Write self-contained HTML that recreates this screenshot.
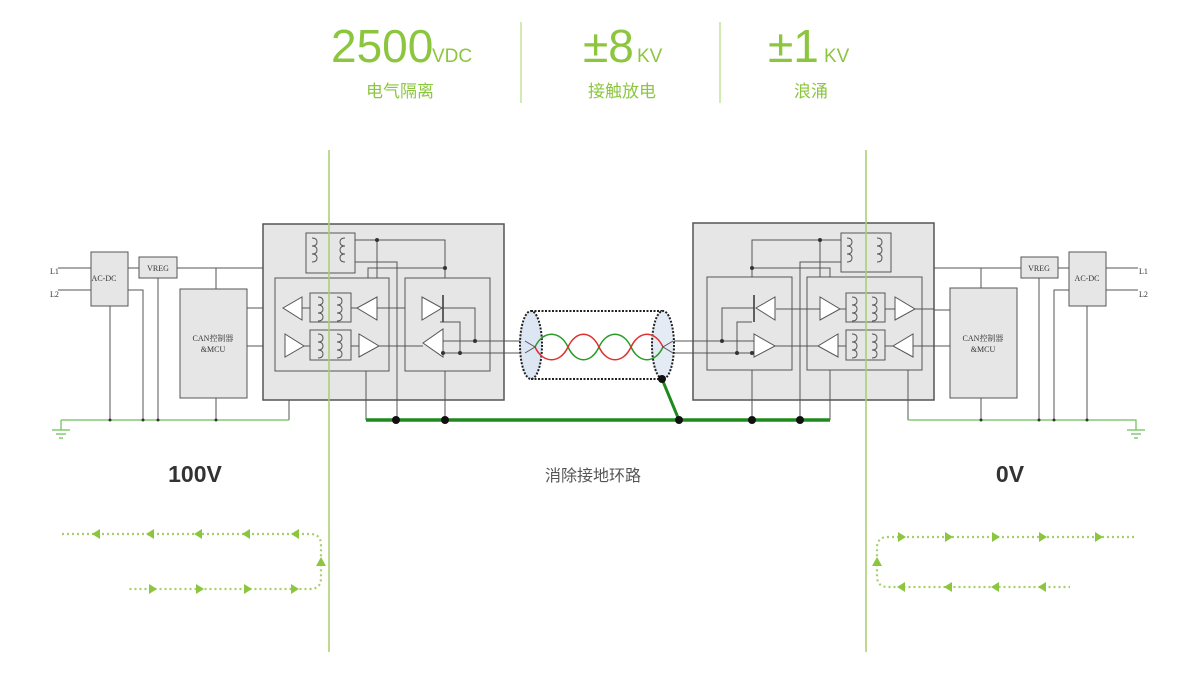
<!DOCTYPE html>
<html><head><meta charset="utf-8"><style>
html,body{margin:0;padding:0;background:#fff;width:1181px;height:681px;overflow:hidden}
svg{display:block}
</style></head><body>
<svg width="1181" height="681" viewBox="0 0 1181 681" xmlns="http://www.w3.org/2000/svg" font-family="'Liberation Sans','Noto Sans CJK SC',sans-serif">
<defs>
<g id="coil"><path d="M0,0 q5,0 5,4 q0,4 -5,4 q5,0 5,4 q0,4 -5,4 q5,0 5,4 q0,4 -5,4" fill="none" stroke="#555" stroke-width="1"/></g>
</defs>
<!-- header -->
<g fill="#8cc63f">
<text x="331" y="62" font-size="46">2500</text><text x="432" y="62" font-size="19">VDC</text>
<text x="400" y="97" font-size="17" text-anchor="middle" font-family="'Noto Sans CJK SC',sans-serif">电气隔离</text>
<text x="583" y="62" font-size="46">±8</text><text x="637" y="62" font-size="19">KV</text>
<text x="622" y="97" font-size="17" text-anchor="middle" font-family="'Noto Sans CJK SC',sans-serif">接触放电</text>
<text x="768" y="62" font-size="46">±1</text><text x="824" y="62" font-size="19">KV</text>
<text x="811" y="97" font-size="17" text-anchor="middle" font-family="'Noto Sans CJK SC',sans-serif">浪涌</text>
</g>
<line x1="521" y1="22" x2="521" y2="103" stroke="#c5e29a" stroke-width="1.5"/>
<line x1="720" y1="22" x2="720" y2="103" stroke="#c5e29a" stroke-width="1.5"/>

<g stroke="#555" stroke-width="1" fill="none">
<!-- LEFT -->
<line x1="58" y1="268" x2="91" y2="268"/><line x1="58" y1="290" x2="91" y2="290"/>
<line x1="128" y1="268" x2="139" y2="268"/>
<path d="M128,290 H143 V420"/>
<line x1="110" y1="306" x2="110" y2="420"/>
<line x1="158" y1="278" x2="158" y2="420"/>
<line x1="177" y1="268" x2="263" y2="268"/>
<line x1="216" y1="268" x2="216" y2="289"/>
<line x1="216" y1="398" x2="216" y2="420"/>
<line x1="247" y1="308" x2="283" y2="308"/>
<line x1="247" y1="346" x2="285" y2="346"/>
<path d="M289,371 V420"/>
</g>
<rect x="91" y="252" width="37" height="54" fill="#e6e6e6" stroke="#555"/>
<rect x="139" y="257" width="38" height="21" fill="#e6e6e6" stroke="#555"/>
<rect x="180" y="289" width="67" height="109" fill="#e6e6e6" stroke="#555"/>
<rect x="263" y="224" width="241" height="176" fill="#e6e6e6" stroke="#555" stroke-width="1.5"/>
<rect x="306" y="233" width="49" height="40" fill="#e6e6e6" stroke="#555"/>
<rect x="275" y="278" width="114" height="93" fill="#e6e6e6" stroke="#555"/>
<rect x="405" y="278" width="85" height="93" fill="#e6e6e6" stroke="#555"/>
<rect x="310" y="293" width="41" height="29" fill="#e6e6e6" stroke="#555"/>
<rect x="310" y="330" width="41" height="30" fill="#e6e6e6" stroke="#555"/>
<g stroke="#555" stroke-width="1" fill="none">
<path d="M355,240 H445 V278"/><path d="M377,240 V278"/>
<path d="M355,262 H397 V420"/><path d="M368,278 V268 H445"/>
<path d="M377,308 H405"/><path d="M379,346 H423"/>
<path d="M436,308 H475 V341"/><path d="M440,322 H460 V353"/>
<path d="M443,341 H525"/><path d="M443,353 H525"/>
<path d="M302,308 H310"/><path d="M351,308 H357"/><path d="M304,346 H310"/><path d="M351,346 H359"/>
<path d="M329,371 V420"/><path d="M445,371 V420"/><path d="M366,371 V420"/>
</g>
<g fill="#fff" stroke="#555">
<polygon points="302,297 302,320 283,308"/><polygon points="377,297 377,320 357,308"/>
<polygon points="285,334 285,357 304,346"/><polygon points="359,334 359,357 379,346"/>
<polygon points="422,297 422,320 442,308"/><polygon points="443,329 443,357 423,343"/>
</g>
<line x1="443" y1="295" x2="443" y2="322" stroke="#333" stroke-width="1.5"/>
<g fill="#333"><circle cx="377" cy="240" r="2"/><circle cx="445" cy="268" r="2"/><circle cx="475" cy="341" r="2"/><circle cx="460" cy="353" r="2"/><circle cx="443" cy="353" r="2"/></g>
<use href="#coil" x="312" y="238"/><use href="#coil" x="345" y="238" transform="translate(690,0) scale(-1,1)"/>
<use href="#coil" x="318" y="297"/><use href="#coil" x="337" y="297"/>
<use href="#coil" x="318" y="334"/><use href="#coil" x="337" y="334"/>
<text x="104" y="281" font-size="8" font-family="'Liberation Serif',serif" fill="#333" text-anchor="middle">AC-DC</text>
<text x="158" y="271" font-size="8" font-family="'Liberation Serif',serif" fill="#333" text-anchor="middle">VREG</text>
<text x="213" y="341" font-size="8" font-family="'Liberation Serif','Noto Serif CJK SC',serif" fill="#333" text-anchor="middle">CAN控制器</text>
<text x="213" y="352" font-size="8" font-family="'Liberation Serif',serif" fill="#333" text-anchor="middle">&amp;MCU</text>
<text x="50" y="274" font-size="8" font-family="'Liberation Serif',serif" fill="#333">L1</text>
<text x="50" y="297" font-size="8" font-family="'Liberation Serif',serif" fill="#333">L2</text>
<!-- ground -->
<path d="M61,420 H289" stroke="#6cbf5a" stroke-width="1.2" fill="none"/>
<path d="M61,420 V430 M52,430 H70 M56,434 H66 M59,438 H63" stroke="#6cbf5a" stroke-width="1.2" fill="none"/>
<g fill="#333"><circle cx="110" cy="420" r="1.5"/><circle cx="143" cy="420" r="1.5"/><circle cx="158" cy="420" r="1.5"/><circle cx="216" cy="420" r="1.5"/></g>

<!-- RIGHT -->
<g stroke="#555" stroke-width="1" fill="none">
<line x1="1106" y1="268" x2="1138" y2="268"/><line x1="1106" y1="290" x2="1138" y2="290"/>
<line x1="1058" y1="268" x2="1069" y2="268"/>
<path d="M1069,290 H1054 V420"/>
<line x1="1087" y1="306" x2="1087" y2="420"/>
<line x1="1039" y1="278" x2="1039" y2="420"/>
<line x1="934" y1="268" x2="1021" y2="268"/>
<line x1="981" y1="268" x2="981" y2="288"/>
<line x1="981" y1="398" x2="981" y2="420"/>
<line x1="922" y1="310" x2="950" y2="310"/>
<line x1="922" y1="346" x2="950" y2="346"/>
</g>
<rect x="1069" y="252" width="37" height="54" fill="#e6e6e6" stroke="#555"/>
<rect x="1021" y="257" width="37" height="21" fill="#e6e6e6" stroke="#555"/>
<rect x="950" y="288" width="67" height="110" fill="#e6e6e6" stroke="#555"/>
<rect x="693" y="223" width="241" height="177" fill="#e6e6e6" stroke="#555" stroke-width="1.5"/>
<rect x="841" y="233" width="50" height="39" fill="#e6e6e6" stroke="#555"/>
<rect x="707" y="277" width="85" height="93" fill="#e6e6e6" stroke="#555"/>
<rect x="807" y="277" width="115" height="93" fill="#e6e6e6" stroke="#555"/>
<rect x="846" y="293" width="39" height="29" fill="#e6e6e6" stroke="#555"/>
<rect x="846" y="330" width="39" height="30" fill="#e6e6e6" stroke="#555"/>
<g stroke="#555" stroke-width="1" fill="none">
<path d="M841,240 H752 V277"/><path d="M820,240 V277"/>
<path d="M841,262 H800 V420"/><path d="M830,277 V268 H752"/>
<path d="M776,309 H820"/><path d="M775,346 H818"/>
<path d="M754,308 H722 V341"/><path d="M752,322 H737 V353"/>
<path d="M674,341 H754"/><path d="M674,353 H754"/>
<path d="M840,309 H846"/><path d="M885,309 H895"/><path d="M838,346 H846"/><path d="M885,346 H893"/>
<path d="M915,309 H934"/><path d="M913,346 H934"/>
<path d="M752,370 V420"/><path d="M830,370 V420"/><path d="M908,370 V420"/>
</g>
<g fill="#fff" stroke="#555">
<polygon points="775,297 775,320 756,308"/><polygon points="754,334 754,357 775,346"/>
<polygon points="820,297 820,320 840,309"/><polygon points="895,297 895,320 915,309"/>
<polygon points="838,334 838,357 818,346"/><polygon points="913,334 913,357 893,346"/>
</g>
<line x1="754" y1="295" x2="754" y2="322" stroke="#333" stroke-width="1.5"/>
<g fill="#333"><circle cx="820" cy="240" r="2"/><circle cx="752" cy="268" r="2"/><circle cx="722" cy="341" r="2"/><circle cx="737" cy="353" r="2"/><circle cx="752" cy="353" r="2"/></g>
<use href="#coil" x="847" y="238"/><use href="#coil" x="877" y="238"/>
<use href="#coil" x="852" y="297"/><use href="#coil" x="872" y="297"/>
<use href="#coil" x="852" y="334"/><use href="#coil" x="872" y="334"/>
<text x="1087" y="281" font-size="8" font-family="'Liberation Serif',serif" fill="#333" text-anchor="middle">AC-DC</text>
<text x="1039" y="271" font-size="8" font-family="'Liberation Serif',serif" fill="#333" text-anchor="middle">VREG</text>
<text x="983" y="341" font-size="8" font-family="'Liberation Serif','Noto Serif CJK SC',serif" fill="#333" text-anchor="middle">CAN控制器</text>
<text x="983" y="352" font-size="8" font-family="'Liberation Serif',serif" fill="#333" text-anchor="middle">&amp;MCU</text>
<text x="1139" y="274" font-size="8" font-family="'Liberation Serif',serif" fill="#333">L1</text>
<text x="1139" y="297" font-size="8" font-family="'Liberation Serif',serif" fill="#333">L2</text>
<path d="M908,420 H1136 V430 M1127,430 H1145 M1131,434 H1141 M1134,438 H1138" stroke="#6cbf5a" stroke-width="1.2" fill="none"/>
<g fill="#333"><circle cx="981" cy="420" r="1.5"/><circle cx="1039" cy="420" r="1.5"/><circle cx="1054" cy="420" r="1.5"/><circle cx="1087" cy="420" r="1.5"/></g>

<!-- cable -->
<ellipse cx="531" cy="345" rx="11" ry="34" fill="#dde6f3" stroke="#222" stroke-width="2" stroke-dasharray="2,1.5"/>
<line x1="531" y1="311" x2="663" y2="311" stroke="#222" stroke-width="2" stroke-dasharray="2,1.5"/>
<line x1="531" y1="379" x2="663" y2="379" stroke="#222" stroke-width="2" stroke-dasharray="2,1.5"/>
<ellipse cx="663" cy="345" rx="11" ry="34" fill="#dde6f3" fill-opacity="0.8" stroke="#222" stroke-width="2" stroke-dasharray="2,1.5"/>
<g fill="none" stroke-width="1.5">
<path d="M535,347 C543,330 560,330 568,347 C576,364 591,364 599,347 C607,330 623,330 631,347 C639,364 655,364 663,347" stroke="#2a9a2a"/>
<path d="M535,347 C543,364 560,364 568,347 C576,330 591,330 599,347 C607,364 623,364 631,347 C639,330 655,330 663,347" stroke="#e03030"/>
</g>
<path d="M525,341 L535,347 L525,353 M673,341 L663,347 L673,353" stroke="#555" fill="none"/>
<!-- green bus -->
<path d="M366,420 H830" stroke="#1e8a1e" stroke-width="3.5" fill="none"/>
<path d="M662,379 L679,420" stroke="#1e8a1e" stroke-width="3" fill="none"/>
<g fill="#111"><circle cx="396" cy="420" r="4"/><circle cx="445" cy="420" r="4"/><circle cx="679" cy="420" r="4"/><circle cx="752" cy="420" r="4"/><circle cx="800" cy="420" r="4"/><circle cx="662" cy="379" r="4"/></g>

<!-- vertical green lines -->
<line x1="329" y1="150" x2="329" y2="652" stroke="#a6cf6b" stroke-width="1.5"/>
<line x1="866" y1="150" x2="866" y2="652" stroke="#a6cf6b" stroke-width="1.5"/>

<!-- labels -->
<text x="195" y="482" font-size="23" font-weight="bold" fill="#333" text-anchor="middle">100V</text>
<text x="1010" y="482" font-size="23" font-weight="bold" fill="#333" text-anchor="middle">0V</text>
<text x="593" y="481" font-size="16" fill="#555" text-anchor="middle" font-family="'Noto Sans CJK SC',sans-serif">消除接地环路</text>

<!-- loop arrows -->
<g fill="none" stroke="#a6cf6b" stroke-width="2.2" stroke-dasharray="2,3">
<path d="M62,534 H310 Q321,534 321,545 V578 Q321,589 310,589 H128"/>
<path d="M1134,537 H888 Q877,537 877,548 V576 Q877,587 888,587 H1070"/>
</g>
<g fill="#8cc63f">
<polygon points="92,534 100,529 100,539"/><polygon points="146,534 154,529 154,539"/><polygon points="194,534 202,529 202,539"/><polygon points="242,534 250,529 250,539"/><polygon points="291,534 299,529 299,539"/>
<polygon points="321,557 316,566 326,566"/>
<polygon points="157,589 149,584 149,594"/><polygon points="204,589 196,584 196,594"/><polygon points="252,589 244,584 244,594"/><polygon points="299,589 291,584 291,594"/>
<polygon points="906,537 898,532 898,542"/><polygon points="953,537 945,532 945,542"/><polygon points="1000,537 992,532 992,542"/><polygon points="1047,537 1039,532 1039,542"/><polygon points="1103,537 1095,532 1095,542"/>
<polygon points="877,557 872,566 882,566"/>
<polygon points="897,587 905,582 905,592"/><polygon points="944,587 952,582 952,592"/><polygon points="991,587 999,582 999,592"/><polygon points="1038,587 1046,582 1046,592"/>
</g>
</svg>
</body></html>
